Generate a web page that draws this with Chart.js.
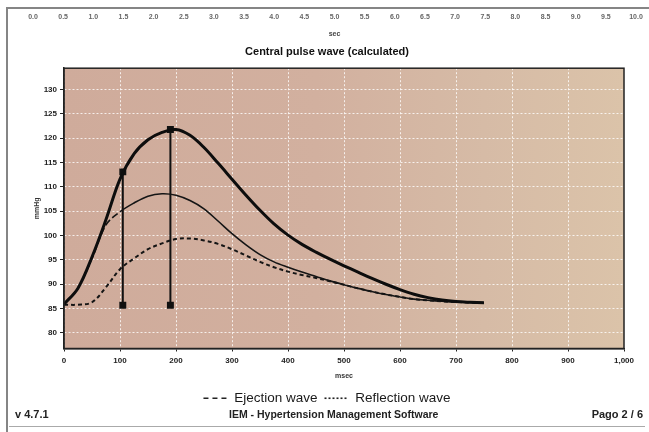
<!DOCTYPE html>
<html>
<head>
<meta charset="utf-8">
<script src="https://cdn.jsdelivr.net/npm/chart.js@4/dist/chart.umd.min.js"></script>
<style>
  html, body { margin: 0; padding: 0; background: #fff; }
  #page { position: relative; width: 649px; height: 432px; overflow: hidden; font-family: "Liberation Sans", Arial, sans-serif; }
  #secAxis { position: absolute; left: 0; top: 0; }
  #pulseChart { position: absolute; left: 0; top: 0; }
  .frame-left { position: absolute; left: 6px; top: 7px; width: 2px; height: 425px; background: #858585; }
  .frame-top { position: absolute; left: 6px; top: 7px; width: 643px; height: 2px; background: #858585; }
  .foot { position: absolute; top: 408px; font-size: 11px; font-weight: bold; color: #222; white-space: nowrap; }
  .foot-line { position: absolute; left: 9px; top: 426px; width: 636px; height: 1px; background: #aaa; }
</style>
</head>
<body>
<div id="page">
  <canvas id="secAxis" width="649" height="42"></canvas>
  <canvas id="pulseChart" width="649" height="432"></canvas>
  <div class="frame-left"></div>
  <div class="frame-top"></div>
  <div class="foot" style="left:15px;">v 4.7.1</div>
  <div class="foot" style="left:229px;font-size:10.5px;">IEM - Hypertension Management Software</div>
  <div class="foot" style="right:6px;">Pago 2 / 6</div>
  <div class="foot-line"></div>
</div>
<script>
// time axis (ms) and the three waves
const msec = [0, 25, 50, 75, 100, 125, 150, 175, 200, 225, 250, 275, 300, 325, 350,
  375, 400, 425, 450, 475, 500, 525, 550, 575, 600, 625, 650, 675, 700, 725, 750];
const centralWave = [85.9, 89.2, 95.6, 103.3, 111.6, 116.8, 119.7, 121.2, 121.8, 120.6,
  118.1, 114.9, 111.6, 108.3, 105.2, 102.4, 100.1, 98.2, 96.6, 95.15, 93.8, 92.5, 91.2,
  90.0, 88.9, 87.95, 87.25, 86.75, 86.45, 86.3, 86.2];
const ejectionWave = [85.9, 89.2, 95.3, 102.2, 104.9, 106.7, 108.1, 108.6, 108.3, 107.2,
  105.5, 103.0, 100.4, 98.1, 96.1, 94.6, 93.5, 92.5, 91.6, 90.7, 89.9, 89.15, 88.5,
  87.9, 87.4, 86.95, 86.7, 86.5, 86.35, 86.25, 86.2];
const reflectionWave = [85.8, 85.8, 86.3, 89.4, 93.1, 95.3, 97.2, 98.4, 99.3, 99.4,
  99.0, 98.3, 97.2, 95.9, 94.6, 93.5, 92.6, 91.9, 91.3, 90.6, 89.9, 89.15, 88.5,
  87.9, 87.4, 86.95, 86.7, 86.5, 86.35, 86.25, 86.2];

// the two cursor lines (ms, mmHg at top) and where they stand
const markerTimes = [105, 190];
const markerTops = [113.1, 121.8];
const markerBase = 85.7;

const secMax = 10;

const toPoints = (ys) => msec.map((x, i) => ({ x: x, y: ys[i] }));
const tickFont = { family: "Liberation Sans", size: 8, weight: "bold" };
const legendDash = { "Ejection wave": [5, 4], "Reflection wave": [2, 2] };

// strip of the previous chart's axis, cut at the top of the page
new Chart(document.getElementById("secAxis"), {
  type: "line",
  data: { datasets: [] },
  options: {
    responsive: false,
    animation: false,
    layout: { padding: { left: 33, right: 13, top: 0, bottom: 0 } },
    plugins: { legend: { display: false }, tooltip: { enabled: false } },
    scales: {
      x: {
        type: "linear",
        min: 0,
        max: secMax,
        grid: { display: false, drawTicks: false },
        border: { display: false },
        ticks: {
          stepSize: 0.5,
          autoSkip: false,
          maxRotation: 0,
          padding: 5,
          color: "#666",
          font: { family: "Liberation Sans", size: 7, weight: "bold" },
          callback: (v) => v.toFixed(1),
        },
        title: {
          display: true,
          text: "sec",
          color: "#444",
          padding: 4,
          font: { family: "Liberation Sans", size: 7, weight: "bold" },
        },
        afterFit: (s) => { s.height = 34; },
      },
      y: { display: false },
    },
  },
});

// paper background behind the plot and the black frame round it
const paperPlugin = {
  id: "paper",
  beforeDraw(chart) {
    const { ctx, chartArea: a } = chart;
    const g = ctx.createLinearGradient(a.left, 0, a.right, 0);
    g.addColorStop(0, "#cfab9b");
    g.addColorStop(0.45, "#d2b09f");
    g.addColorStop(0.75, "#d6bba6");
    g.addColorStop(1, "#dbc3a9");
    ctx.save();
    ctx.fillStyle = g;
    ctx.fillRect(a.left, a.top, a.right - a.left, a.bottom - a.top);
    ctx.restore();
  },
  afterDraw(chart) {
    const { ctx, chartArea: a } = chart;
    ctx.save();
    ctx.strokeStyle = "#222";
    ctx.lineWidth = 1.5;
    ctx.strokeRect(a.left, a.top, a.right - a.left, a.bottom - a.top);
    ctx.restore();
  },
};

const markerSets = markerTimes.map((t, i) => ({
  label: "marker" + i,
  data: [{ x: t, y: markerBase }, { x: t, y: markerTops[i] }],
  borderColor: "#111",
  backgroundColor: "#111",
  borderWidth: 2,
  tension: 0,
  pointStyle: "rect",
  pointRadius: 3.5,
  pointBackgroundColor: "#111",
  pointBorderColor: "#111",
}));

new Chart(document.getElementById("pulseChart"), {
  type: "line",
  data: {
    datasets: [
      {
        label: "Central pulse wave",
        data: toPoints(centralWave),
        borderColor: "#0d0d0d",
        borderWidth: 3,
        pointRadius: 0,
        tension: 0.35,
      },
      {
        label: "Ejection wave",
        data: toPoints(ejectionWave),
        borderColor: "#151515",
        borderWidth: 1.6,
        borderDash: [7, 3],
        pointRadius: 0,
        tension: 0.35,
        segment: {
          borderDash: (ctx) => (ctx.p0.parsed.x >= 100 ? [] : undefined),
        },
      },
      {
        label: "Reflection wave",
        data: toPoints(reflectionWave),
        borderColor: "#151515",
        borderWidth: 2,
        borderDash: [4, 3],
        pointRadius: 0,
        tension: 0.35,
      },
      ...markerSets,
    ],
  },
  options: {
    responsive: false,
    animation: false,
    events: [],
    layout: { padding: { left: 30, right: 25, top: 40, bottom: 17 } },
    plugins: {
      tooltip: { enabled: false },
      title: {
        display: true,
        text: "Central pulse wave (calculated)",
        color: "#111",
        font: { family: "Liberation Sans", size: 11, weight: "bold" },
        padding: { top: 5, bottom: 10 },
      },
      legend: {
        position: "bottom",
        labels: {
          usePointStyle: true,
          pointStyle: "line",
          pointStyleWidth: 24,
          padding: 7,
          color: "#1a1a1a",
          font: { family: "Liberation Sans", size: 13.5 },
          generateLabels: (chart) =>
            Chart.defaults.plugins.legend.labels.generateLabels(chart)
              .filter((it) => legendDash[it.text])
              .map((it) => Object.assign(it, {
                lineDash: legendDash[it.text],
                lineWidth: 1.6,
                strokeStyle: "#222",
                pointStyle: "line",
              })),
        },
      },
    },
    scales: {
      x: {
        type: "linear",
        min: 0,
        max: 1000,
        grid: {
          color: "rgba(255,255,255,0.8)",
          lineWidth: 1,
          tickColor: "#222",
          tickLength: 3,
        },
        border: { color: "#222", width: 1.5, dash: [2, 2] },
        ticks: {
          stepSize: 100,
          autoSkip: false,
          maxRotation: 0,
          padding: 4,
          color: "#222",
          font: tickFont,
        },
        title: {
          display: true,
          text: "msec",
          color: "#333",
          padding: 4,
          font: { family: "Liberation Sans", size: 7, weight: "bold" },
        },
        afterFit: (s) => { s.height = 36; },
      },
      y: {
        type: "linear",
        min: 76.8,
        max: 134.4,
        grid: {
          color: "rgba(255,255,255,0.8)",
          lineWidth: 1,
          tickColor: "#222",
          tickLength: 4,
        },
        border: { color: "#222", width: 1.5, dash: [2, 2] },
        ticks: {
          stepSize: 5,
          includeBounds: false,
          padding: 3,
          color: "#222",
          font: tickFont,
        },
        title: {
          display: true,
          text: "mmHg",
          color: "#333",
          padding: 3,
          font: { family: "Liberation Sans", size: 7, weight: "bold" },
        },
        afterFit: (s) => { s.width = 34; },
      },
    },
  },
  plugins: [paperPlugin],
});
</script>
</body>
</html>
